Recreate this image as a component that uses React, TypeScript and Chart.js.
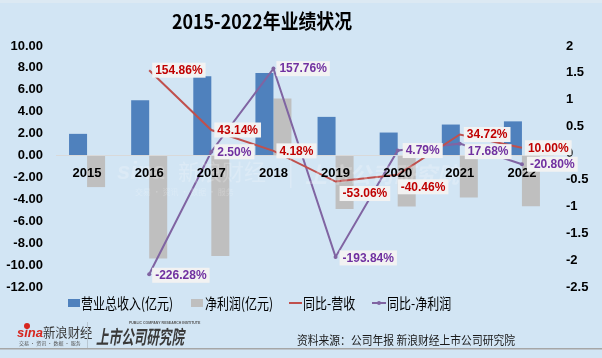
import React, { useEffect, useRef } from "react";
import { Chart, registerables } from "chart.js";

Chart.register(...registerables);

const years = ["2015", "2016", "2017", "2018", "2019", "2020", "2021", "2022"];
const revenue = [1.98, 5.05, 7.23, 7.53, 3.53, 2.1, 2.83, 3.12];
const netProfit = [-2.88, -9.4, -9.17, 5.2, -4.88, -4.65, -3.83, -4.63];
const revenueGrowth = [null, 1.5486, 0.4314, 0.0418, -0.5306, -0.4046, 0.3472, 0.1];
const profitGrowth = [null, -2.2628, 0.025, 1.5776, -1.9384, 0.0479, 0.1768, -0.208];
const leftAxis = { min: -12, max: 10, step: 2 };
const rightAxis = { min: -2.5, max: 2, step: 0.5 };

const titleText = "2015-2022年业绩状况";
const legendNames = ["营业总收入(亿元)", "净利润(亿元)", "同比-营收", "同比-净利润"];
const sourceText = "资料来源：公司年报 新浪财经上市公司研究院";

// label placement (style only): [dx, dy] per point
const revLabelShift = [[3, 0], [3, 0], [3, 0], [3, 0], [4, 12], [0, 12], [4, 0], [3, 0]];
const profLabelShift = [[3, 0], [3, 1], [3, 0], [3, 0], [4, 1], [5, 0], [5, 8], [5, 0]];

const BG = "#d2e5f4";
const BLUE = "#4f81bd";
const GRAY = "#bfbfbf";
const RED = "#c0504d";
const PURPLE = "#8064a2";
const RED_TXT = "#c00000";
const PURPLE_TXT = "#7030a0";
const CJK = '"Noto Sans CJK SC", "Noto Sans", sans-serif';
const NUM = '"Liberation Sans", Arial, sans-serif';

function squishText(ctx: CanvasRenderingContext2D, text: string, x: number, y: number, font: string, color: string, align: CanvasTextAlign, sx: number) {
  ctx.save();
  ctx.translate(x, y);
  ctx.scale(sx, 1);
  ctx.font = font;
  ctx.textAlign = align;
  ctx.textBaseline = "middle";
  ctx.fillStyle = color;
  ctx.fillText(text, 0, 0);
  ctx.restore();
}

function fitText(ctx: CanvasRenderingContext2D, text: string, x: number, y: number, font: string, color: string, align: CanvasTextAlign, width: number) {
  ctx.save();
  ctx.font = font;
  const w = ctx.measureText(text).width;
  ctx.restore();
  squishText(ctx, text, x, y, font, color, align, width / w);
}

const decorPlugin = {
  id: "decor",
  beforeDraw(chart: any) {
    const ctx = chart.ctx as CanvasRenderingContext2D;
    ctx.save();
    ctx.fillStyle = BG;
    ctx.fillRect(0, 0, chart.width, chart.height);
    ctx.fillStyle = "#dce9f3";
    ctx.fillRect(0, 0, chart.width, 3);
    ctx.restore();
  },
  afterDatasetsDraw(chart: any) {
    const ctx = chart.ctx as CanvasRenderingContext2D;
    // faint watermark
    ctx.save();
    ctx.globalAlpha = 0.22;
    ctx.fillStyle = "#ffffff";
    ctx.font = `italic bold 24px ${NUM}`;
    ctx.textBaseline = "middle";
    ctx.fillText("sina", 117, 172);
    ctx.font = `22px ${CJK}`;
    ctx.fillText("新浪财经", 178, 172);
    ctx.font = `8px ${CJK}`;
    ctx.fillText("交易 · 资讯 · 数据 · 服务", 135, 192);
    ctx.fillRect(290, 150, 1.5, 38);
    ctx.font = `italic bold 22px ${CJK}`;
    ctx.fillText("上市公司研究院", 305, 175);
    ctx.restore();
  },
  afterDraw(chart: any) {
    const ctx = chart.ctx as CanvasRenderingContext2D;
    const ys = chart.scales.y1;
    const xs = chart.scales.x;

    // data labels
    const drawLabel = (v: number, i: number, color: string, shift: number[]) => {
      const px = xs.getPixelForValue(i);
      const py = ys.getPixelForValue(v);
      const txt = (v * 100).toFixed(2) + "%";
      ctx.save();
      ctx.font = `bold 12px ${NUM}`;
      const w = ctx.measureText(txt).width;
      const bx = px + shift[0];
      const cy = py + shift[1];
      ctx.fillStyle = "#f2f2f2";
      ctx.fillRect(bx, cy - 7.5, w + 6, 15);
      ctx.fillStyle = color;
      ctx.textAlign = "left";
      ctx.textBaseline = "middle";
      ctx.fillText(txt, bx + 3, cy + 0.5);
      ctx.restore();
    };
    revenueGrowth.forEach((v, i) => { if (v !== null) drawLabel(v, i, RED_TXT, revLabelShift[i]); });
    profitGrowth.forEach((v, i) => { if (v !== null) drawLabel(v, i, PURPLE_TXT, profLabelShift[i]); });

    // title
    fitText(ctx, titleText, 262, 21, `bold 20px ${CJK}`, "#000000", "center", 180);

    // legend
    const ly = 303;
    const lf = `15px ${CJK}`;
    ctx.save();
    ctx.fillStyle = BLUE;
    ctx.fillRect(68, ly - 4, 12, 8);
    ctx.fillStyle = GRAY;
    ctx.fillRect(191, ly - 4, 12, 8);
    ctx.strokeStyle = RED;
    ctx.lineWidth = 2;
    ctx.beginPath(); ctx.moveTo(289, ly); ctx.lineTo(302, ly); ctx.stroke();
    ctx.strokeStyle = PURPLE;
    ctx.beginPath(); ctx.moveTo(372, ly); ctx.lineTo(386, ly); ctx.stroke();
    ctx.fillStyle = PURPLE;
    ctx.beginPath(); ctx.arc(379, ly, 2, 0, Math.PI * 2); ctx.fill();
    ctx.restore();
    squishText(ctx, legendNames[0], 81, ly, lf, "#000", "left", 0.8);
    squishText(ctx, legendNames[1], 205, ly, lf, "#000", "left", 0.8);
    squishText(ctx, legendNames[2], 303, ly, lf, "#000", "left", 0.8);
    squishText(ctx, legendNames[3], 387, ly, lf, "#000", "left", 0.8);

    // footer
    fitText(ctx, sourceText, 515, 340, `12px ${CJK}`, "#1a1a1a", "right", 218);
    ctx.save();
    ctx.textBaseline = "middle";
    ctx.fillStyle = "#d7261e";
    ctx.font = `italic bold 13px ${NUM}`;
    ctx.fillText("sina", 17, 333);
    ctx.beginPath(); ctx.arc(27, 326, 3, 0, Math.PI * 2); ctx.fill();
    ctx.restore();
    squishText(ctx, "新浪财经", 43, 332, `13px ${CJK}`, "#3a3a3a", "left", 0.95);
    squishText(ctx, "交易 · 资讯 · 数据 · 服务", 19, 343, `5px ${CJK}`, "#555", "left", 1);
    ctx.save();
    ctx.fillStyle = "#b8c6d1";
    ctx.fillRect(87, 322, 1, 26);
    ctx.restore();
    fitText(ctx, "上市公司研究院", 96, 337, `italic bold 19px ${CJK}`, "#3a3a3a", "left", 88);
    squishText(ctx, "PUBLIC COMPANY RESEARCH INSTITUTE", 129, 323, `bold 3.5px ${NUM}`, "#555", "left", 1);

    // bottom rule
    ctx.save();
    ctx.fillStyle = "#a6a6a6";
    ctx.fillRect(0, 348, chart.width, 1.5);
    ctx.restore();
  },
};

export default function App() {
  const ref = useRef<HTMLCanvasElement | null>(null);

  useEffect(() => {
    document.body.style.margin = "0";
    const canvas = ref.current;
    if (!canvas) return;
    const chart = new Chart(canvas, {
      type: "bar",
      data: {
        labels: years,
        datasets: [
          {
            type: "line",
            label: legendNames[2],
            data: revenueGrowth,
            yAxisID: "y1",
            borderColor: RED,
            backgroundColor: RED,
            borderWidth: 2,
            pointRadius: 0,
            tension: 0,
            order: 0,
          },
          {
            type: "line",
            label: legendNames[3],
            data: profitGrowth,
            yAxisID: "y1",
            borderColor: PURPLE,
            backgroundColor: PURPLE,
            borderWidth: 2,
            pointRadius: 2,
            pointBorderWidth: 0,
            tension: 0,
            order: 0,
          },
          {
            label: legendNames[0],
            data: revenue,
            yAxisID: "y",
            backgroundColor: BLUE,
            categoryPercentage: 0.58,
            barPercentage: 1,
            order: 1,
          },
          {
            label: legendNames[1],
            data: netProfit,
            yAxisID: "y",
            backgroundColor: GRAY,
            categoryPercentage: 0.58,
            barPercentage: 1,
            order: 1,
          },
        ],
      } as any,
      options: {
        animation: false,
        responsive: false,
        devicePixelRatio: 1,
        layout: { padding: { top: 46, bottom: 71, left: 0, right: 0 } },
        plugins: {
          legend: { display: false },
          title: { display: false },
          tooltip: { enabled: false },
        },
        scales: {
          x: {
            position: { y: 0 } as any,
            grid: { display: false, drawTicks: false },
            border: { display: true, color: "#d9d9d9", width: 1, z: 1 },
            ticks: {
              z: 1,
              color: "#000",
              font: { family: NUM, size: 13, weight: "bold" },
              padding: 10,
              maxRotation: 0,
              autoSkip: false,
            },
          },
          y: {
            position: "left",
            min: leftAxis.min,
            max: leftAxis.max,
            grid: { display: false, drawTicks: false },
            border: { display: false },
            ticks: {
              stepSize: leftAxis.step,
              color: "#000",
              font: { family: NUM, size: 13, weight: "bold" },
              padding: 13,
              callback: (v: any) => Number(v).toFixed(2),
            },
            afterFit: (s: any) => { s.width = 56; },
          },
          y1: {
            position: "right",
            min: rightAxis.min,
            max: rightAxis.max,
            grid: { display: false, drawTicks: false },
            border: { display: false },
            ticks: {
              stepSize: rightAxis.step,
              color: "#000",
              font: { family: NUM, size: 13, weight: "bold" },
              padding: 13,
              callback: (v: any) => String(Number(v)),
            },
            afterFit: (s: any) => { s.width = 49; },
          },
        },
      } as any,
      plugins: [decorPlugin],
    });
    return () => chart.destroy();
  }, []);

  return (
    <div style={{ width: 602, height: 358 }}>
      <canvas ref={ref} width={602} height={358} style={{ display: "block" }} />
    </div>
  );
}
